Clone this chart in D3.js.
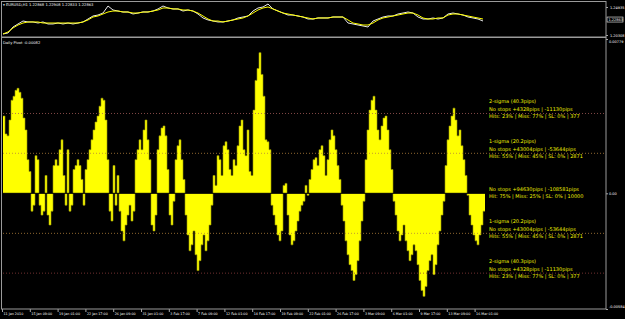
<!DOCTYPE html>
<html>
<head>
<meta charset="utf-8">
<script src="https://cdn.jsdelivr.net/npm/d3@7"></script>
<style>
body { margin: 0; background: #000; }
svg { display: block; }
text { font-family: "DejaVu Sans", sans-serif; }
</style>
</head>
<body>
<div id="chart"></div>
<script>
// bottom time labels
var dateLabels = ["11 Jan 2010", "15 Jan 09:00", "19 Jan 01:00", "22 Jan 17:00", "26 Jan 09:00",
    "31 Jan 01:00", "3 Feb 17:00", "7 Feb 09:00", "12 Feb 01:00", "14 Feb 17:00", "19 Feb 09:00",
    "22 Feb 01:00", "26 Feb 17:00", "3 Mar 09:00", "6 Mar 01:00", "9 Mar 17:00", "13 Mar 09:00", "16 Mar 01:00"];

// distance from daily pivot, pips (one value per group of bars)
var pivotDev = [39, 30, 29, 37, 47, 49, 52, 53, 51, 48, 38, 32, 17, 11, -9, -6, 19, 17, -6, -11,
    -9, 9, -11, -16, -9, 14, 17, 14, 22, 27, 9, -6, 22, -9, -6, 12, 14, 17, 14, 7,
    -6, 12, 17, 22, 27, 32, 36, 39, 44, 48, 47, 37, 17, -9, -14, 14, -6, 9, -9, -19,
    -24, -16, -11, -6, -14, -9, 17, 22, 27, 22, 32, 37, 27, 17, -16, -19, -11, 22, 29, 33,
    34, 29, 12, -11, -16, -4, 17, 24, 27, 17, 7, -11, -21, -29, -26, -19, -31, -39, -34, -26,
    -21, -29, -24, -16, -6, 9, 4, 19, 17, 9, 24, 26, 22, 12, 9, 17, 14, 24, 34, 37,
    22, 19, 32, 11, 9, 42, 57, 63, 71, 60, 49, 27, 26, 22, -6, -11, -16, -21, -24, -19,
    4, 5, -11, -21, -26, -24, -19, -14, -9, -6, -4, 4, -1, 7, 12, 17, 18, 14, 22, 24,
    19, 9, 17, 27, 32, 29, 22, 14, 7, -6, -14, -24, -31, -36, -39, -44, -41, -34, -24, -14,
    -4, 17, 32, 42, 47, 49, 42, 32, 27, 34, 38, 39, 32, 22, 12, -4, -11, -19, -24, -21,
    -16, -24, -29, -34, -31, -26, -29, -36, -44, -49, -52, -47, -39, -34, -31, -41, -36, -26, -19, -11,
    -4, 14, 27, 34, 39, 43, 37, 29, 32, 24, 17, 9, -1, -11, -16, -21, -24, -26, -21, -16, -9];

// EURUSD H1 close and its moving average (sampled)
var closeLine = [1.2048, 1.2064, 1.2163, 1.2213, 1.2262, 1.2246, 1.2246, 1.2229, 1.2246, 1.2213,
    1.2213, 1.2229, 1.2213, 1.2229, 1.2213, 1.2229, 1.2246, 1.2295, 1.2345, 1.2361,
    1.2394, 1.2510, 1.2444, 1.2427, 1.2411, 1.2411, 1.2378, 1.2394, 1.2411, 1.2411,
    1.2427, 1.2461, 1.2510, 1.2477, 1.2461, 1.2461, 1.2427, 1.2444, 1.2427, 1.2378,
    1.2312, 1.2279, 1.2262, 1.2246, 1.2246, 1.2262, 1.2279, 1.2312, 1.2328, 1.2345,
    1.2427, 1.2477, 1.2494, 1.2543, 1.2461, 1.2427, 1.2394, 1.2361, 1.2361, 1.2345,
    1.2328, 1.2295, 1.2295, 1.2312, 1.2312, 1.2312, 1.2328, 1.2328, 1.2328, 1.2229,
    1.2213, 1.2196, 1.2180, 1.2163, 1.2262, 1.2295, 1.2328, 1.2345, 1.2345, 1.2378,
    1.2394, 1.2411, 1.2394, 1.2328, 1.2295, 1.2295, 1.2312, 1.2295, 1.2312, 1.2378,
    1.2394, 1.2378, 1.2361, 1.2328, 1.2312, 1.2295, 1.2262];
var maLine = [1.2048, 1.2081, 1.2147, 1.2196, 1.2229, 1.2246, 1.2246, 1.2246, 1.2229, 1.2229,
    1.2229, 1.2229, 1.2229, 1.2229, 1.2229, 1.2229, 1.2246, 1.2279, 1.2328, 1.2345,
    1.2378, 1.2411, 1.2427, 1.2427, 1.2411, 1.2411, 1.2394, 1.2394, 1.2411, 1.2411,
    1.2427, 1.2444, 1.2477, 1.2477, 1.2461, 1.2461, 1.2444, 1.2444, 1.2427, 1.2394,
    1.2345, 1.2295, 1.2262, 1.2262, 1.2246, 1.2262, 1.2279, 1.2295, 1.2312, 1.2345,
    1.2394, 1.2444, 1.2477, 1.2494, 1.2461, 1.2427, 1.2394, 1.2378, 1.2361, 1.2345,
    1.2328, 1.2312, 1.2295, 1.2312, 1.2312, 1.2312, 1.2328, 1.2328, 1.2328, 1.2279,
    1.2229, 1.2213, 1.2196, 1.2196, 1.2229, 1.2279, 1.2312, 1.2328, 1.2345, 1.2361,
    1.2378, 1.2394, 1.2394, 1.2361, 1.2312, 1.2295, 1.2295, 1.2312, 1.2312, 1.2361,
    1.2378, 1.2378, 1.2361, 1.2345, 1.2328, 1.2312, 1.2295];

var priceTicks = [1.20308, 1.24935];
var lastPrice = 1.22863;
var devTicks = [-0.00584, 0, 0.00779];
var devTickLabels = ["-0.00584", "0.00", "0.00779"];

// sigma bands, pips, with their stats
var sigmaLevels = [40.3, 20.2, 0, -20.2, -40.3];
var sigmaColors = ["#a35a58", "#b4823c", null, "#b4823c", "#8e3c3c"];
var sigmaStats = [
    ["2-sigma (40.3pips)", "No stops  +4328pips | -11130pips", "Hits: 23% | Miss: 77% | SL: 0% | 377"],
    ["1-sigma (20.2pips)", "No stops  +43004pips | -53644pips", "Hits: 55% | Miss: 45% | SL: 0% | 2871"],
    ["No stops  +94630pips | -108581pips", "Hit: 75% | Miss: 25% | SL: 0% | 10000"],
    ["1-sigma (20.2pips)", "No stops  +43004pips | -53644pips", "Hits: 55% | Miss: 45% | SL: 0% | 2871"],
    ["2-sigma (40.3pips)", "No stops  +4328pips | -11130pips", "Hits: 23% | Miss: 77% | SL: 0% | 377"]
];

var width = 625, height = 319;
var right = 606;

var svg = d3.select('#chart')
    .append('svg')
    .attr('width', width)
    .attr('height', height)
    .style('background', '#000');

// ---- top pane: price
var xTop = d3.scaleLinear().domain([0, closeLine.length - 1]).range([3, 483]);
var yTop = d3.scaleLinear().domain([1.20308, 1.24935]).range([35, 7]);

var line = d3.line()
    .x(function(d, i) { return xTop(i); })
    .y(function(d) { return yTop(d); });

svg.append('path').datum(closeLine)
    .attr('d', line).attr('fill', 'none')
    .attr('stroke', '#e8e8e8').attr('stroke-width', 1);
svg.append('path').datum(maLine)
    .attr('d', line).attr('fill', 'none')
    .attr('stroke', '#ffff00').attr('stroke-width', 1);

svg.append('text').attr('x', 3).attr('y', 5.5)
    .attr('fill', '#fff').style('font-size', '3.7px')
    .text('\u25BE EURUSD,H1  1.22868 1.22908 1.22833 1.22863');

var topAxis = svg.append('g')
    .attr('transform', 'translate(' + right + ',0)')
    .call(d3.axisRight(yTop).tickValues(priceTicks).tickSize(2).tickFormat(d3.format('.5f')));
topAxis.select('.domain').remove();
topAxis.selectAll('line').attr('stroke', '#aaa');
topAxis.selectAll('text').attr('fill', '#fff').style('font-size', '3.5px').attr('x', 4);

svg.append('rect').attr('x', right + 1).attr('y', yTop(lastPrice) - 2.5)
    .attr('width', 16).attr('height', 5).attr('fill', '#000').attr('stroke', '#fff').attr('stroke-width', 0.6);
svg.append('text').attr('x', right + 2.5).attr('y', yTop(lastPrice)).attr('dy', '0.35em')
    .attr('fill', '#fff').style('font-size', '3.5px').text(lastPrice.toFixed(5));

// ---- main pane: deviation histogram
var x = d3.scaleLinear().domain([0, pivotDev.length]).range([3, 3 + 2 * pivotDev.length]);
var y = d3.scaleLinear().domain([-0.00584, 0.00779]).range([309, 39]);

var stepData = pivotDev.concat([pivotDev[pivotDev.length - 1]]);
var area = d3.area()
    .curve(d3.curveStepAfter)
    .x(function(d, i) { return x(i); })
    .y0(y(0))
    .y1(function(d) { return y(d * 0.0001); });
var edge = d3.line()
    .curve(d3.curveStepAfter)
    .x(function(d, i) { return x(i); })
    .y(function(d) { return y(d * 0.0001); });

svg.append('path').datum(stepData)
    .attr('d', area)
    .attr('fill', '#ffff00');
svg.append('path').datum(stepData)
    .attr('d', edge)
    .attr('fill', 'none')
    .attr('stroke', '#9c9c00')
    .attr('stroke-width', 0.6);

svg.append('line').attr('x1', 3).attr('x2', right).attr('y1', y(0)).attr('y2', y(0))
    .attr('stroke', '#000').attr('stroke-width', 1);

// sigma lines
sigmaLevels.forEach(function(lv, k) {
    if (sigmaColors[k]) {
        svg.append('line')
            .attr('x1', 3).attr('x2', right)
            .attr('y1', y(lv * 0.0001)).attr('y2', y(lv * 0.0001))
            .attr('stroke', sigmaColors[k]).attr('stroke-width', 0.8)
            .attr('stroke-dasharray', '1,2');
    }
    var rows = sigmaStats[k];
    var offs = rows.length === 3 ? [-12, -4.3, 3] : [-4.3, 3];
    svg.append('g').selectAll('text')
        .data(rows).enter().append('text')
        .attr('x', 489)
        .attr('y', function(d, j) { return y(lv * 0.0001) + offs[j]; })
        .attr('dy', '0.35em')
        .attr('fill', '#f0f000')
        .style('font-size', '5px')
        .text(function(d) { return d; });
});

svg.append('text').attr('x', 3).attr('y', 44)
    .attr('fill', '#fff').style('font-size', '3.7px')
    .text('Daily Pivot -0.00082');

var mainAxis = svg.append('g')
    .attr('transform', 'translate(' + right + ',0)')
    .call(d3.axisRight(y).tickValues(devTicks).tickSize(2)
        .tickFormat(function(d, i) { return devTickLabels[i]; }));
mainAxis.select('.domain').remove();
mainAxis.selectAll('line').attr('stroke', '#aaa');
mainAxis.selectAll('text').attr('fill', '#fff').style('font-size', '3.5px').attr('x', 3)
    .attr('dy', function(d, i) { return i === 0 ? '-0.3em' : (i === 2 ? '0.9em' : '0.32em'); });

// ---- time axis
var xDates = d3.scalePoint().domain(dateLabels).range([2, 2 + 27.8 * (dateLabels.length - 1)]);
var dateAxis = svg.append('g')
    .attr('transform', 'translate(0,309)')
    .call(d3.axisBottom(xDates).tickSize(3).tickPadding(1));
dateAxis.select('.domain').remove();
dateAxis.selectAll('line').attr('stroke', '#aaa');
dateAxis.selectAll('text').attr('fill', '#fff').style('font-size', '3.3px')
    .attr('text-anchor', 'start').attr('x', 1);

// ---- pane frames
var frame = '#9a9a9a';
svg.append('rect').attr('x', 1.5).attr('y', 1.5).attr('width', right - 1.5).attr('height', 35.5)
    .attr('fill', 'none').attr('stroke', frame);
svg.append('rect').attr('x', 1.5).attr('y', 37.5).attr('width', right - 1.5).attr('height', 271.5)
    .attr('fill', 'none').attr('stroke', frame);
</script>
</body>
</html>
